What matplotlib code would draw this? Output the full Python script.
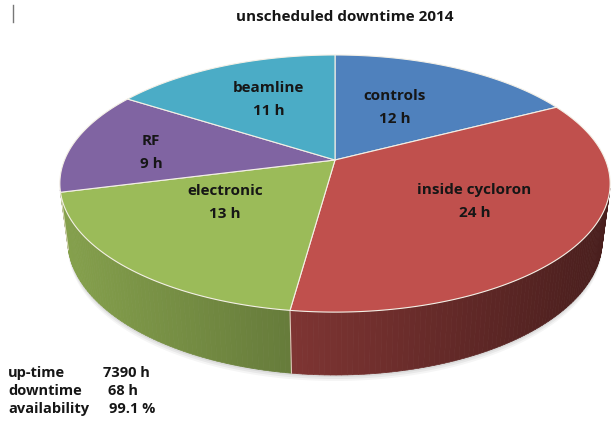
import numpy as np
import matplotlib
matplotlib.use("Agg")
import matplotlib.pyplot as plt
from matplotlib.patches import Polygon
from matplotlib.collections import PolyCollection
import matplotlib.colors as mcolors

# ---------------- data ----------------
title = "unscheduled downtime 2014"
categories = ["controls", "inside cycloron", "electronic", "RF", "beamline"]
hours = [12, 24, 13, 9, 11]
colors = ["#4F81BD", "#C0504D", "#9BBB59", "#8064A2", "#4BACC6"]
stat_names = ["up-time", "downtime", "availability"]
stat_values = ["7390 h", "68 h", "99.1 %"]

# ---------------- layout ----------------
W, H = 613, 421
fig = plt.figure(figsize=(W / 100, H / 100), dpi=100)
ax = fig.add_axes([0, 0, 1, 1])
ax.set_xlim(0, W)
ax.set_ylim(H, 0)
ax.axis("off")

FONT = ["Open Sans", "DejaVu Sans"]
TXT = "#161616"

# perspective projection of a unit disk (x right, y away, z up)
theta = np.radians(30)
c, s = np.cos(theta), np.sin(theta)
D = 5.46 * c
FX, FY = 1279.0, 1175.0
CX, CY = 335.0, 160.0
DEPTH = 0.267


def proj(x, y, z):
    den = D + y * c - z * s
    return CX + FX * x / den, CY - FY * (y * s + z * c) / den


vals = np.array(hours, dtype=float)
fr = vals / vals.sum()
edges = np.concatenate([[0], np.cumsum(fr)]) * 2 * np.pi  # clockwise from far side

# screen x-range for shading
allang = np.linspace(0, 2 * np.pi, 721)
px_all, _ = proj(np.sin(allang), np.cos(allang), 0)
xmin, xmax = px_all.min(), px_all.max()

# soft shadow under the pie
for k, a in zip([6, 4, 2], [0.04, 0.05, 0.06]):
    bx, by = proj(np.sin(allang), np.cos(allang), -DEPTH)
    ax.add_patch(Polygon(np.column_stack([bx, by + k]), closed=True,
                         facecolor="#000000", edgecolor="none", alpha=a, zorder=1))

# side walls
vis_lim = -1.0 / (D * c)
quads, qcols, qdepth = [], [], []
for i in range(len(vals)):
    a = np.linspace(edges[i], edges[i + 1], max(4, int(np.degrees(edges[i + 1] - edges[i]))) + 1)
    base = np.array(mcolors.to_rgb(colors[i]))
    for a0, a1 in zip(a[:-1], a[1:]):
        am = 0.5 * (a0 + a1)
        if np.cos(am) > vis_lim + 0.02:
            continue
        x0, y0 = np.sin(a0), np.cos(a0)
        x1, y1 = np.sin(a1), np.cos(a1)
        p1 = proj(x0, y0, 0)
        p2 = proj(x1, y1, 0)
        p3 = proj(x1, y1, -DEPTH)
        p4 = proj(x0, y0, -DEPTH)
        quads.append([p1, p2, p3, p4])
        xn = (0.5 * (p1[0] + p2[0]) - xmin) / (xmax - xmin)
        f = 0.86 - 0.48 * xn
        qcols.append(np.clip(base * f, 0, 1))
        qdepth.append(np.cos(am))
order = np.argsort(qdepth)[::-1]
pc = PolyCollection([quads[k] for k in order], facecolors=[qcols[k] for k in order],
                    edgecolors=[qcols[k] for k in order], linewidths=0.5, zorder=2)
ax.add_collection(pc)

# seams on the wall
for e in edges[:-1]:
    if np.cos(e) < vis_lim:
        t = proj(np.sin(e), np.cos(e), 0)
        b = proj(np.sin(e), np.cos(e), -DEPTH)
        ax.plot([t[0], b[0]], [t[1], b[1]], color="#f2ead8", lw=0.8, alpha=0.8, zorder=3)

# top faces
for i in range(len(vals)):
    a = np.linspace(edges[i], edges[i + 1], 200)
    xs, ys = proj(np.sin(a), np.cos(a), 0)
    cx0, cy0 = proj(0, 0, 0)
    pts = np.column_stack([np.r_[cx0, xs], np.r_[cy0, ys]])
    ax.add_patch(Polygon(pts, closed=True, facecolor=colors[i], edgecolor="#f4f0e6",
                         linewidth=0.8, joinstyle="round", zorder=4))

# slice labels (radial position and angular nudge, in layout units)
label_r = [0.52, 0.58, 0.5, 0.69, 0.6]
label_da = [-4, -2, 8.3, -4.1, 2]
for i, name in enumerate(categories):
    am = 0.5 * (edges[i] + edges[i + 1]) + np.radians(label_da[i])
    lx, ly = proj(label_r[i] * np.sin(am), label_r[i] * np.cos(am), 0)
    ax.text(lx, ly - 11.5, name, ha="center", va="center", fontsize=11,
            fontweight="bold", family=FONT, color=TXT, zorder=5)
    ax.text(lx, ly + 11.5, f"{hours[i]:g} h", ha="center", va="center", fontsize=11,
            fontweight="bold", family=FONT, color=TXT, zorder=5)

# title
ax.text(345, 17, title, ha="center", va="center", fontsize=11, fontweight="bold",
        family=FONT, color=TXT)

# statistics block
name_x = 8
val_x = [103, 108, 109]
for j, (nm, vv) in enumerate(zip(stat_names, stat_values)):
    yy = 373 + 18 * j
    ax.text(name_x, yy, nm, ha="left", va="center", fontsize=10.5, fontweight="bold",
            family=FONT, color=TXT)
    ax.text(val_x[j], yy, vv, ha="left", va="center", fontsize=10.5, fontweight="bold",
            family=FONT, color=TXT)

# small cursor mark at top-left
ax.plot([13, 13], [5, 22], color="#777777", lw=1.0)

fig.savefig("out.png", dpi=100)
